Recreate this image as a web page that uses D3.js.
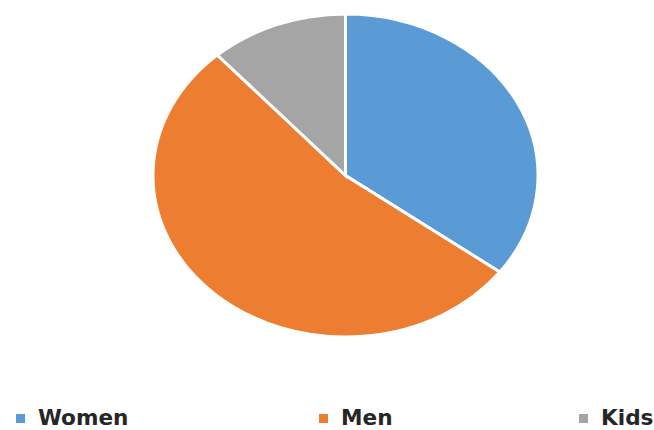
<!DOCTYPE html>
<html>
<head>
<meta charset="utf-8">
<script src="https://cdn.jsdelivr.net/npm/d3@7"></script>
<style>
  body { margin: 0; background: #fff; }
  svg { display: block; }
</style>
</head>
<body>
<script>
var categories = ["Women", "Men", "Kids"];
var values = [35.2, 53.2, 11.6];
var colors = ["#5B9BD5", "#ED7D31", "#A5A5A5"];

var width = 654, height = 430;
var cx = 345.5, cy = 175.5;
var rx = 192.5, ry = 161.5;

var svg = d3.select("body").append("svg")
    .attr("width", width)
    .attr("height", height);

var data = categories.map(function (c, i) { return { name: c, value: values[i], color: colors[i] }; });

var pie = d3.pie().sort(null).value(function (d) { return d.value; });
var arc = d3.arc().innerRadius(0).outerRadius(ry);

// picture is stretched sideways, so the pie is an ellipse
var g = svg.append("g")
    .attr("transform", "translate(" + cx + "," + cy + ") scale(" + (rx / ry) + ",1)");

g.selectAll("path")
    .data(pie(data)).enter()
    .append("path")
    .attr("d", arc)
    .attr("fill", function (d) { return d.data.color; })
    .attr("stroke", "#fff")
    .attr("stroke-width", 3)
    .attr("vector-effect", "non-scaling-stroke");

// legend
var legendX = d3.scaleOrdinal().domain(categories).range([16, 319, 579]);

var item = svg.selectAll(".legend")
    .data(data).enter()
    .append("g")
    .attr("class", "legend")
    .attr("transform", function (d) { return "translate(" + legendX(d.name) + ",0)"; });

item.append("rect")
    .attr("x", 0)
    .attr("y", 414)
    .attr("width", 9)
    .attr("height", 9)
    .attr("fill", function (d) { return d.color; });

item.append("text")
    .attr("transform", "translate(22,425) scale(1.03,1)")
    .attr("font-family", "DejaVu Sans")
    .attr("font-weight", "bold")
    .attr("font-size", "21px")
    .attr("fill", "#262626")
    .text(function (d) { return d.name; });
</script>
</body>
</html>
